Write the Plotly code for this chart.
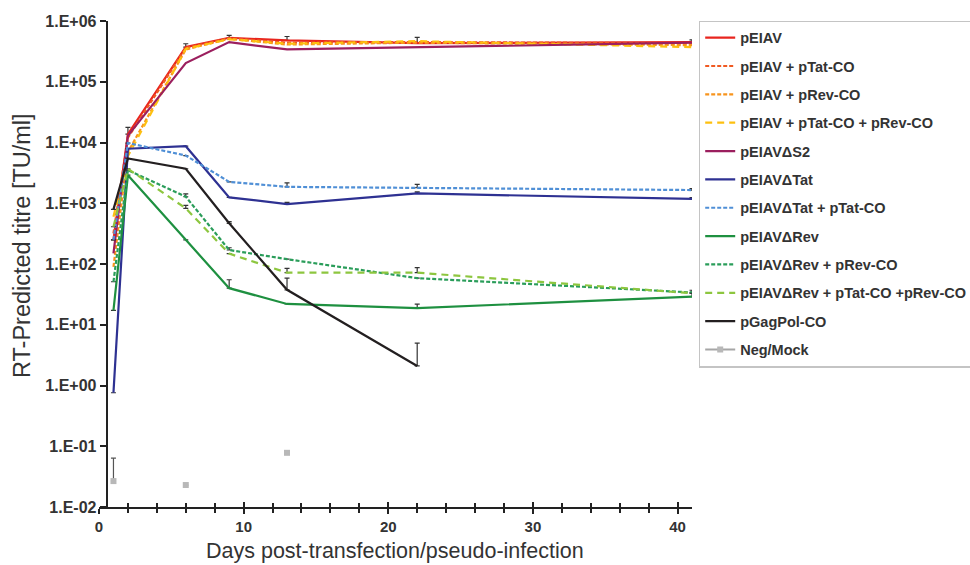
import plotly.graph_objects as go

days = [1, 2, 6, 9, 13, 22, 41]

series_names = [
    "pEIAV", "pEIAV + pTat-CO", "pEIAV + pRev-CO", "pEIAV + pTat-CO + pRev-CO",
    "pEIAVΔS2", "pEIAVΔTat", "pEIAVΔTat + pTat-CO", "pEIAVΔRev",
    "pEIAVΔRev + pRev-CO", "pEIAVΔRev + pTat-CO +pRev-CO", "pGagPol-CO",
]

pEIAV = [250, 13700, 372000, 530000, 478000, 433000, 448000]
pEIAV_pTat = [320, 12000, 360000, 520000, 440000, 450000, 430000]
pEIAV_pRev = [90, 7000, 340000, 510000, 410000, 440000, 400000]
pEIAV_pTat_pRev = [600, 6000, 350000, 500000, 423000, 466000, 372000]
pEIAV_dS2 = [150, 13000, 203000, 449000, 340000, 372000, 440000]
pEIAV_dTat = [0.76, 7900, 8700, 1250, 970, 1450, 1180]
pEIAV_dTat_pTat = [250, 9800, 6100, 2250, 1860, 1800, 1650]
pEIAV_dRev = [17.2, 2900, 250, 40, 22, 18.8, 29]
pEIAV_dRev_pRev = [51, 3500, 1280, 170, 120, 58.5, 34]
pEIAV_dRev_pTat_pRev = [410, 3700, 825, 148, 72, 72, 33]
pGagPol = [794, 5450, 3700, 468, 37.6, 2.1, None]

neg_days = [1, 6, 13]
neg_mock = [0.0267, 0.023, 0.078]
neg_err = [0.037, 0, 0]

err_pEIAV = [0, 4100, 50000, 48000, 78000, 104000, 40000]
err_dTat = [0, 0, 0, 0, 60, 90, 60]
err_dTat_pTat = [0, 0, 0, 0, 300, 240, 100]
err_dRev = [0, 0, 0, 15, 0, 3, 4]
err_dRev_pRev = [0, 0, 150, 15, 0, 0, 3]
err_dRev_pTat_pRev = [0, 0, 100, 0, 13, 15, 0]
err_gag = [0, 0, 0, 30, 21, 2.9, 0]

values = [pEIAV, pEIAV_pTat, pEIAV_pRev, pEIAV_pTat_pRev, pEIAV_dS2, pEIAV_dTat,
          pEIAV_dTat_pTat, pEIAV_dRev, pEIAV_dRev_pRev, pEIAV_dRev_pTat_pRev, pGagPol]
errors = [err_pEIAV, None, None, None, None, err_dTat, err_dTat_pTat, err_dRev,
          err_dRev_pRev, err_dRev_pTat_pRev, err_gag]
colors = ["#e8251e", "#f05a22", "#f7941d", "#fdc010", "#9b1f5e", "#2e3192",
          "#4f8fd6", "#1e9040", "#2a9d5a", "#8dc63f", "#231f20"]
dashes = ["solid", "4px,2px", "4px,2px", "7px,5px", "solid", "solid",
          "4px,2px", "solid", "4px,2px", "7px,5px", "solid"]

ytick_vals = [1e-2, 1e-1, 1e0, 1e1, 1e2, 1e3, 1e4, 1e5, 1e6]
ytick_text = ["1.E-02", "1.E-01", "1.E+00", "1.E+01", "1.E+02", "1.E+03",
              "1.E+04", "1.E+05", "1.E+06"]
xtick_vals = [0, 10, 20, 30, 40]

FONT = "Liberation Sans, Arial, sans-serif"
L, R, T, B = 99, 278, 20.5, 57.5
PW, PH = 970 - L - R, 565 - T - B

fig = go.Figure()
for i, name in enumerate(series_names):
    err = None
    if errors[i] is not None:
        err = dict(type="data", array=errors[i], arrayminus=[0] * len(days),
                   symmetric=False, color="#333333", thickness=1.2, width=2.5)
    fig.add_trace(go.Scatter(
        x=days, y=values[i], name=name, mode="lines",
        line=dict(color=colors[i], width=2.2, dash=dashes[i]),
        error_y=err, legendgroup=f"g{i}",
    ))

# Neg/Mock: separate points (no connecting line in plot)
nx, ny, ne = [], [], []
for j, d in enumerate(neg_days):
    if j:
        nx.append(None); ny.append(None); ne.append(0)
    nx.append(d); ny.append(neg_mock[j]); ne.append(neg_err[j])
fig.add_trace(go.Scatter(
    x=nx, y=ny, name="Neg/Mock", mode="lines+markers", connectgaps=False,
    line=dict(color="#a6a6a6", width=2),
    marker=dict(symbol="square", size=6, color="#b8b8b8"),
    error_y=dict(type="data", array=ne, arrayminus=[0] * len(ne), symmetric=False,
                 color="#555555", thickness=1.2, width=2.5),
    legendgroup="neg",
))

# dummy trace for the overlaid axis (inside tick marks -> crossing ticks)
fig.add_trace(go.Scatter(x=[0], y=[1], xaxis="x2", mode="markers",
                         marker=dict(opacity=0), showlegend=False, hoverinfo="skip"))

fig.update_layout(
    width=970, height=565,
    margin=dict(l=L, r=R, t=T, b=B, autoexpand=False),
    paper_bgcolor="white", plot_bgcolor="white",
    font=dict(family=FONT, color="#333333"),
    showlegend=True,
    legend=dict(
        x=(699 - L) / PW, y=(565 - B - 20) / PH, xanchor="left", yanchor="top",
        bordercolor="#c4c4c4", borderwidth=1.2, bgcolor="white",
        font=dict(family=FONT, size=14.5, color="#333333", weight="bold"),
        tracegroupgap=6.5, itemwidth=30, maxheight=520,
    ),
    xaxis=dict(
        range=[0, 41], tickvals=xtick_vals, ticks="outside", ticklen=5,
        tickwidth=1.5, tickcolor="#222222",
        minor=dict(dtick=2, tick0=0, ticks="outside", ticklen=4, tickwidth=1.5,
                   tickcolor="#222222"),
        showline=True, linecolor="#222222", linewidth=2, showgrid=False,
        zeroline=False, tickfont=dict(size=15, weight="bold", color="#333333"),
        anchor="y",
    ),
    xaxis2=dict(
        range=[0, 41], overlaying="x", anchor="y", side="bottom",
        tickvals=xtick_vals, ticks="inside", ticklen=5, tickwidth=1.5,
        tickcolor="#222222", showticklabels=False,
        minor=dict(dtick=2, tick0=0, ticks="inside", ticklen=4, tickwidth=1.5,
                   tickcolor="#222222"),
        showline=False, showgrid=False, zeroline=False,
    ),
    yaxis=dict(
        type="log", range=[-2, 6], tickvals=ytick_vals, ticktext=ytick_text,
        ticks="outside", ticklen=6, tickwidth=1.5, tickcolor="#222222",
        showline=True, linecolor="#222222", linewidth=2, showgrid=False,
        zeroline=False, anchor="free", position=0.53 / 41,
        tickfont=dict(size=16, weight="bold", color="#333333"),
    ),
    annotations=[
        dict(text="RT-Predicted titre [TU/ml]", xref="paper", yref="paper",
             x=(22 - L) / PW, y=(565 - B - 246) / PH, textangle=-90,
             showarrow=False, xanchor="center", yanchor="middle",
             font=dict(family=FONT, size=23.5, color="#333333")),
        dict(text="Days post-transfection/pseudo-infection", xref="paper", yref="paper",
             x=(395 - L) / PW, y=(565 - B - 552) / PH,
             showarrow=False, xanchor="center", yanchor="middle",
             font=dict(family=FONT, size=21.5, color="#333333")),
    ],
)

fig.write_html("out.html")
